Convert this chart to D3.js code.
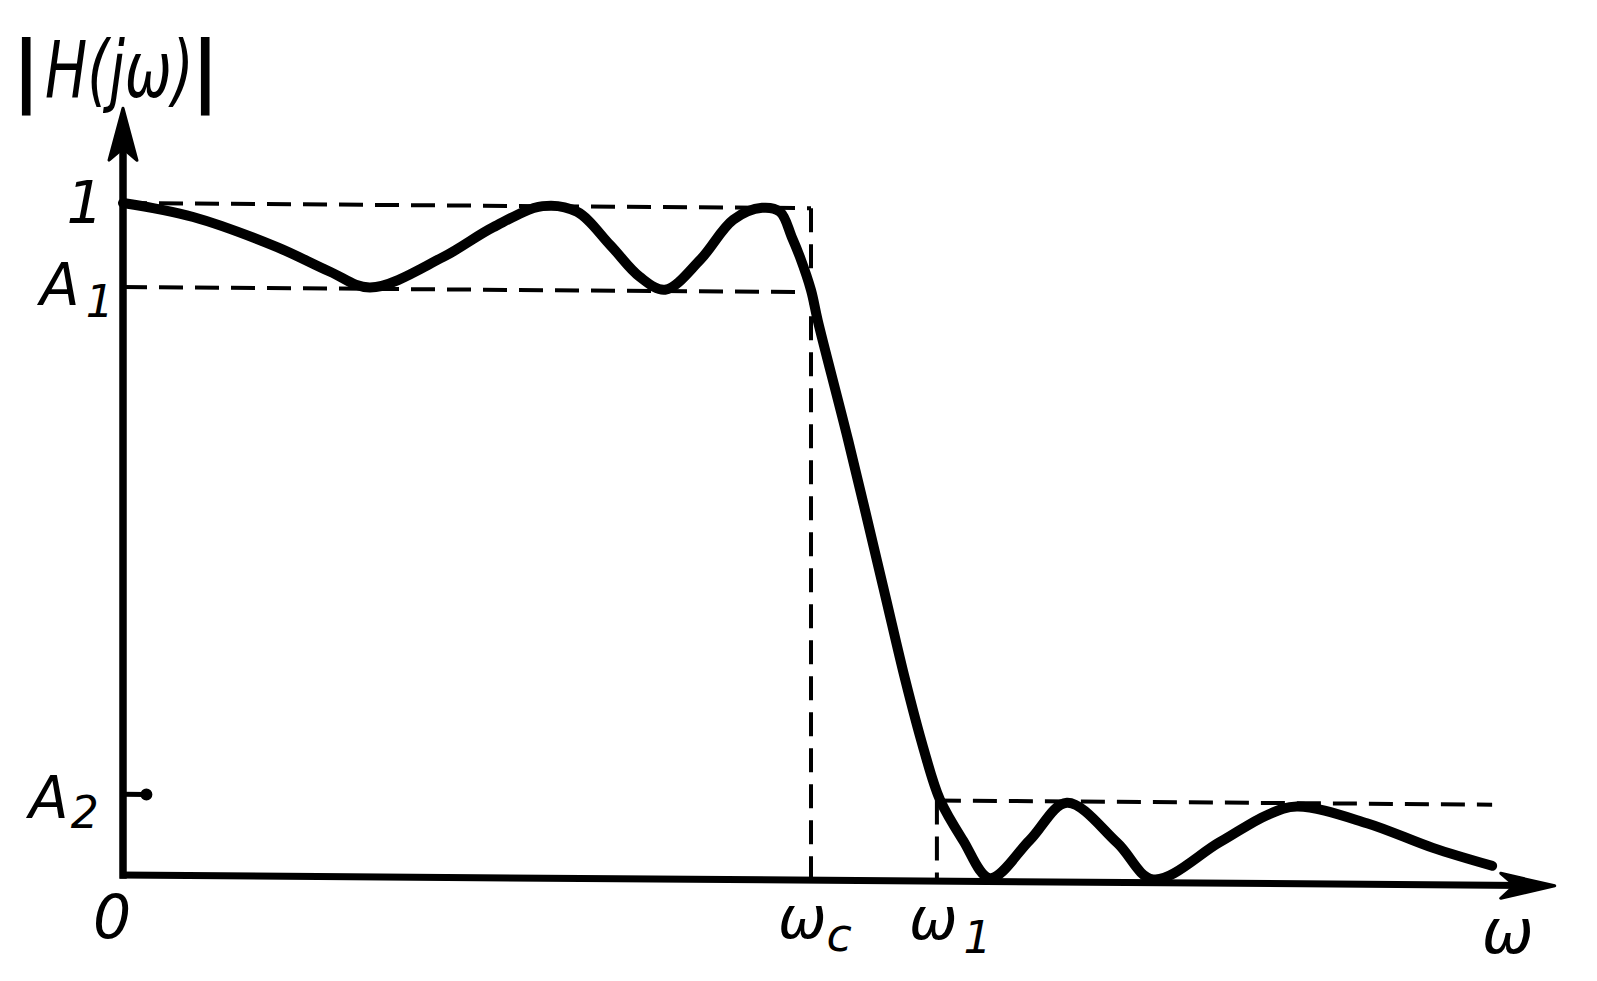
<!DOCTYPE html>
<html><head><meta charset="utf-8">
<script src="https://cdn.jsdelivr.net/npm/d3@7"></script>
<style>body{margin:0;background:#fff}svg{display:block}</style>
</head><body>
<svg id="c" width="1597" height="981"></svg>
<script>
// ---- data ----
const omegaGrid = [0, 0.102, 0.224, 0.301, 0.359, 0.465, 0.538, 0.610, 0.660, 0.708, 0.751, 0.788,
  0.839, 0.887, 0.929, 0.955, 0.972, 0.984, 1.0, 1.010, 1.054, 1.105, 1.137, 1.163, 1.1875,
  1.221, 1.260, 1.318, 1.372, 1.445, 1.497, 1.594, 1.663, 1.706, 1.808, 1.904, 1.990];
const response = [1.0, 0.980, 0.936, 0.900, 0.877, 0.923, 0.968, 1.0, 0.992, 0.943, 0.896, 0.877,
  0.922, 0.982, 1.0, 0.994, 0.957, 0.927, 0.878, 0.832, 0.655, 0.437, 0.299, 0.199, 0.121,
  0.061, 0.005, 0.062, 0.118, 0.059, 0.005, 0.061, 0.102, 0.115, 0.091, 0.055, 0.029];
const levelValues = [1, 0.875, 0.12];
const levelNames = ["1", "A", "A"];
const levelSubs = ["", "1", "2"];
const freqMarks = [1.0, 1.183];
const freqNames = ["ω", "ω"];
const freqSubs = ["c", "1"];
const axisEnds = [2.081, 1.141];   // [omega axis end, |H| axis end]
const stopbandEnd = 1.99;
const yTitle = ["|", "H(jω)", "|"];
const xTitle = "ω";
const originLabel = "0";

// ---- scales ----
const x = d3.scaleLinear().domain([0, 1]).range([123, 811]);
const y = d3.scaleLinear().domain([0, 1]).range([875, 203]);
const k = 0.0075; // slight scan tilt
const tilt = px => (px - x(0)) * k;

const svg = d3.select("#c");
const g = svg.append("g")
  .attr("transform", `translate(${x(0)},0) skewY(${Math.atan(k) * 180 / Math.PI}) translate(${-x(0)},0)`);

const dash = "24,12";
function dline(x1, y1, x2, y2) {
  g.append("line").attr("x1", x(x1)).attr("y1", y(y1)).attr("x2", x(x2)).attr("y2", y(y2))
    .attr("stroke", "#000").attr("stroke-width", 4).attr("stroke-dasharray", dash);
}
// dashed guides
dline(0, levelValues[0], freqMarks[0], levelValues[0]);
dline(0, levelValues[1], freqMarks[0], levelValues[1]);
dline(freqMarks[0], levelValues[0], freqMarks[0], 0);
dline(freqMarks[1], levelValues[2], stopbandEnd, levelValues[2]);
dline(freqMarks[1], levelValues[2], freqMarks[1], 0);

// axes
g.append("line").attr("x1", x(0)).attr("y1", y(0)).attr("x2", x(0)).attr("y2", y(axisEnds[1]) + 30)
  .attr("stroke", "#000").attr("stroke-width", 7.5).attr("stroke-linecap", "square");
g.append("line").attr("x1", x(0) - 3).attr("y1", y(0)).attr("x2", x(axisEnds[0]) - 30).attr("y2", y(0))
  .attr("stroke", "#000").attr("stroke-width", 7);
// arrowheads
const ty = [x(0), y(axisEnds[1])];
g.append("path").attr("d", `M${ty[0]},${ty[1]} L${ty[0] + 14},${ty[1] + 52} L${ty[0]},${ty[1] + 40} L${ty[0] - 14},${ty[1] + 52} Z`)
  .attr("fill", "#000").attr("stroke", "#000").attr("stroke-width", 3).attr("stroke-linejoin", "round");
const tx = [x(axisEnds[0]), y(0)];
g.append("path").attr("d", `M${tx[0]},${tx[1]} L${tx[0] - 54},${tx[1] - 12} L${tx[0] - 40},${tx[1]} L${tx[0] - 54},${tx[1] + 13} Z`)
  .attr("fill", "#000").attr("stroke", "#000").attr("stroke-width", 3).attr("stroke-linejoin", "round");

// A2 tick with dot
g.append("line").attr("x1", x(0)).attr("y1", y(levelValues[2])).attr("x2", x(0.034)).attr("y2", y(levelValues[2]))
  .attr("stroke", "#000").attr("stroke-width", 5);
g.append("circle").attr("cx", x(0.034)).attr("cy", y(levelValues[2])).attr("r", 6).attr("fill", "#000");

// response curve
const line = d3.line().x((d, i) => x(omegaGrid[i])).y(d => y(d)).curve(d3.curveCatmullRom.alpha(0.5));
g.append("path").attr("d", line(response)).attr("fill", "none").attr("stroke", "#000")
  .attr("stroke-width", 10).attr("stroke-linecap", "round").attr("stroke-linejoin", "round");

// ---- labels ----
const font = "'DejaVu Sans', sans-serif";
function label(px, py, main, sub, size, subSize, subDx, subDy, anchor) {
  const t = svg.append("text").attr("x", px).attr("y", py).attr("font-family", font)
    .attr("font-style", "italic").attr("font-size", size).attr("text-anchor", anchor || "start").attr("fill", "#000");
  t.append("tspan").text(main);
  if (sub) t.append("tspan").attr("dx", subDx).attr("dy", subDy).attr("font-size", subSize).text(sub);
  return t;
}
// level labels
label(85, y(levelValues[0]) + 20, levelNames[0], "", 58, 0, 0, 0, "middle");
label(40, y(levelValues[1]) + 18, levelNames[1], levelSubs[1], 58, 44, 6, 12);
label(29, y(levelValues[2]) + 24, levelNames[2], levelSubs[2], 58, 44, 2, 10);
label(112, y(0) + 63, originLabel, "", 60, 0, 0, 0, "middle");
// frequency labels
label(x(freqMarks[0]) - 33, y(0) + tilt(x(freqMarks[0])) + 58, freqNames[0], freqSubs[0], 58, 46, 0, 13);
label(x(freqMarks[1]) - 28, y(0) + tilt(x(freqMarks[1])) + 58, freqNames[1], freqSubs[1], 58, 44, 6, 14);
label(x(axisEnds[0]) - 73, y(0) + tilt(x(axisEnds[0])) + 67, xTitle, "", 62, 0, 0, 0);
// axis title: bars and a horizontally condensed H(jω), as separate non-overlapping texts
function title(px, txt, weight, sx) {
  return svg.append("text").attr("x", 0).attr("y", 0)
    .attr("transform", `translate(${px},97) scale(${sx},1)`)
    .attr("font-family", font).attr("font-style", "italic")
    .attr("font-weight", weight).attr("font-size", 78).attr("fill", "#000").text(txt);
}
title(12, yTitle[0], "bold", 1);
title(45, yTitle[1], "normal", 0.72);
title(191, yTitle[2], "bold", 1);
</script>
</body></html>
